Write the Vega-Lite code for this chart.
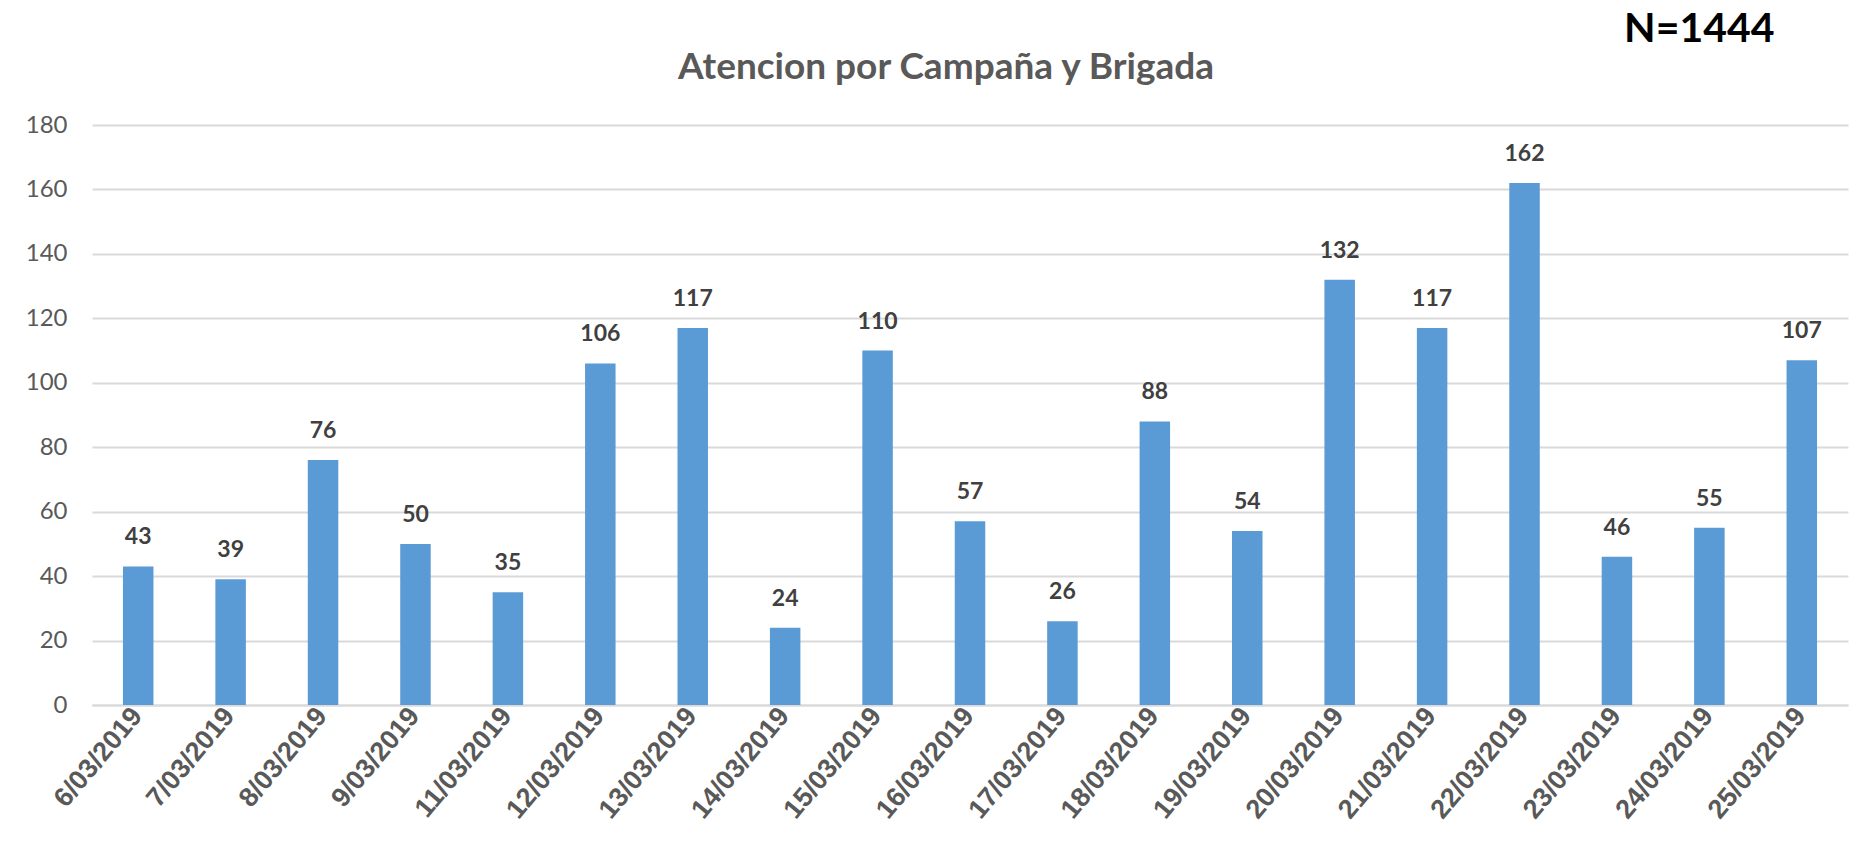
{
  "$schema": "https://vega.github.io/schema/vega-lite/v6.json",
  "width": 1756,
  "height": 580,
  "padding": {"left": 25, "top": 8, "right": 8, "bottom": 5},
  "background": "white",
  "title": {
    "text": "Atencion por Campaña y Brigada",
    "font": "Lato",
    "fontSize": 37,
    "fontWeight": "bold",
    "color": "#595959",
    "anchor": "middle",
    "dx": -24,
    "offset": -78
  },
  "config": {"view": {"stroke": null}},
  "data": {
    "values": [
      {"fecha": "6/03/2019", "n": 43},
      {"fecha": "7/03/2019", "n": 39},
      {"fecha": "8/03/2019", "n": 76},
      {"fecha": "9/03/2019", "n": 50},
      {"fecha": "11/03/2019", "n": 35},
      {"fecha": "12/03/2019", "n": 106},
      {"fecha": "13/03/2019", "n": 117},
      {"fecha": "14/03/2019", "n": 24},
      {"fecha": "15/03/2019", "n": 110},
      {"fecha": "16/03/2019", "n": 57},
      {"fecha": "17/03/2019", "n": 26},
      {"fecha": "18/03/2019", "n": 88},
      {"fecha": "19/03/2019", "n": 54},
      {"fecha": "20/03/2019", "n": 132},
      {"fecha": "21/03/2019", "n": 117},
      {"fecha": "22/03/2019", "n": 162},
      {"fecha": "23/03/2019", "n": 46},
      {"fecha": "24/03/2019", "n": 55},
      {"fecha": "25/03/2019", "n": 107}
    ]
  },
  "encoding": {
    "x": {
      "field": "fecha",
      "type": "nominal",
      "sort": null,
      "title": null,
      "scale": {"paddingInner": 0.67, "paddingOuter": 0.335},
      "axis": {
        "labelAngle": -50,
        "labelFont": "Liberation Sans",
        "labelFontSize": 27,
        "labelFontWeight": "bold",
        "labelColor": "#595959",
        "labelPadding": 6,
        "labelOffset": -1,
        "ticks": false,
        "domainColor": "#d9d9d9",
        "domainWidth": 2
      }
    }
  },
  "layer": [
    {
      "mark": {"type": "bar", "color": "#5B9BD5"},
      "encoding": {
        "y": {
          "field": "n",
          "type": "quantitative",
          "title": null,
          "scale": {"domain": [0, 180], "nice": false},
          "axis": {
            "values": [0, 20, 40, 60, 80, 100, 120, 140, 160, 180],
            "labelFont": "Lato",
            "labelFontSize": 24,
            "labelColor": "#595959",
            "labelPadding": 25,
            "ticks": false,
            "domain": false,
            "gridColor": "#d9d9d9",
            "gridWidth": 2,
            "minExtent": 67,
            "maxExtent": 67
          }
        }
      }
    },
    {
      "mark": {
        "type": "text",
        "font": "Lato",
        "fontSize": 23,
        "fontWeight": "bold",
        "color": "#404040",
        "baseline": "middle",
        "dy": -29
      },
      "encoding": {
        "y": {"field": "n", "type": "quantitative"},
        "text": {"field": "n", "type": "quantitative"}
      }
    },
    {
      "data": {"values": [{"fecha": "24/03/2019", "nota": "N=1444"}]},
      "mark": {
        "type": "text",
        "font": "Lato",
        "fontSize": 41,
        "fontWeight": "bold",
        "color": "#000000",
        "baseline": "middle",
        "dx": -10
      },
      "encoding": {
        "y": {"datum": 209.5},
        "text": {"field": "nota", "type": "nominal"}
      }
    }
  ]
}
